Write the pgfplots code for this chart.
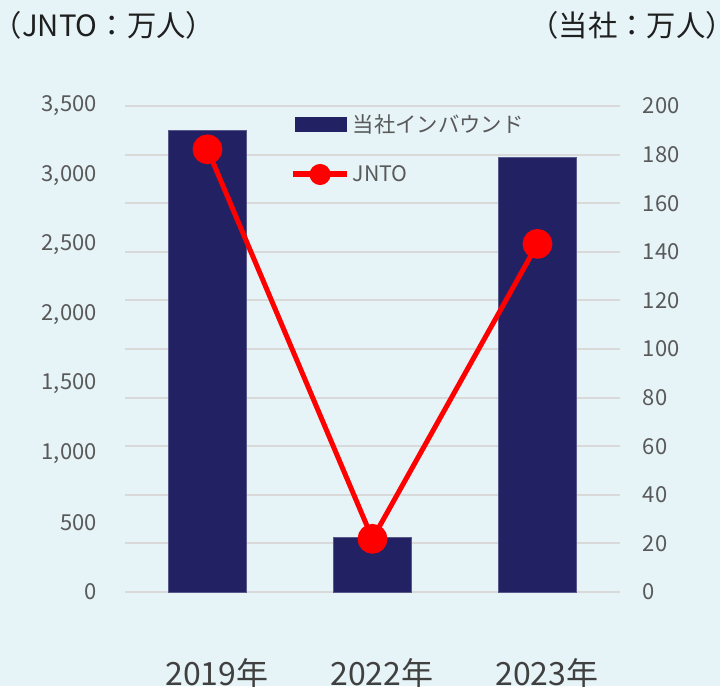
\documentclass[border=0pt]{standalone}
\usepackage{fontspec}
\setmainfont{Noto Sans CJK JP}
\usepackage{pgfplots}
\pgfplotsset{compat=1.18}
\definecolor{bg}{RGB}{230,244,248}
\definecolor{navy}{RGB}{34,33,100}
\definecolor{gridc}{RGB}{217,217,217}
\definecolor{tickc}{RGB}{89,89,89}
\definecolor{xlab}{RGB}{64,64,64}
\begin{document}
\begin{tikzpicture}
\fill[bg] (0pt,0pt) rectangle (540pt,514.5pt);
\useasboundingbox (0pt,0pt) rectangle (540pt,514.5pt);
% right axis: 当社 (bars) + grid
\begin{axis}[
  at={(93.75pt,70.5pt)}, anchor=south west,
  scale only axis, width=371.25pt, height=364.5pt,
  xmin=-0.5, xmax=2.5, ymin=0, ymax=200,
  ytick={0,20,...,200},
  xtick={0,1,2}, xticklabels={2019年,2022年,2023年},
  yticklabel pos=right,
  axis line style={draw=none},
  major tick length=0pt,
  tick style={draw=none},
  ymajorgrids, grid style={gridc, line width=1.5pt},
  yticklabel style={anchor=west, inner sep=0pt, text=tickc, font=\fontsize{16.5pt}{19pt}\selectfont},
  yticklabel shift=17pt,
  xticklabel style={anchor=base, inner sep=0pt, yshift=-70pt, xshift=7pt, text=xlab, font=\fontsize{24pt}{28pt}\selectfont},
  /pgf/number format/assume math mode=true,
  clip=false,
]
\addplot[ybar, bar width=58.5pt, fill=navy, draw=navy!75!white, line width=0.5pt] coordinates {(0,190) (1,22.6) (2,179)};
\end{axis}
% left axis: JNTO (line)
\begin{axis}[
  at={(93.75pt,70.5pt)}, anchor=south west,
  scale only axis, width=371.25pt, height=364.5pt,
  xmin=-0.5, xmax=2.5, ymin=0, ymax=3500,
  ytick={0,500,...,3500},
  xtick=\empty,
  axis line style={draw=none},
  major tick length=0pt,
  tick style={draw=none},
  scaled y ticks=false,
  yticklabel style={anchor=east, inner sep=0pt, text=tickc, font=\fontsize{16.5pt}{19pt}\selectfont, /pgf/number format/1000 sep={,}},
  yticklabel shift=21pt,
  /pgf/number format/assume math mode=true,
  clip=false,
  legend style={draw=none, fill=none, at={(0.333,0.989)}, anchor=north west,
    font=\fontsize{16pt}{19pt}\selectfont, text=tickc, row sep=19.5pt, inner sep=0pt},
  legend cell align=left,
]
\addlegendimage{legend image code/.code={\fill[navy] (2pt,-5.25pt) rectangle (39.5pt,5.25pt);}}
\addlegendentry{当社インバウンド}
\addplot[red, line width=3.75pt, mark=*, mark size=9.3pt, mark options={fill=red, draw=none},
  legend image code/.code={\draw[red, line width=4.5pt] (0pt,0pt) -- (40.5pt,0pt); \fill[red] (20.25pt,0pt) circle (6pt);}]
  coordinates {(0,3188) (1,383) (2,2507)};
\addlegendentry{JNTO}
\end{axis}
\node[anchor=base, font=\fontsize{22pt}{26pt}\selectfont, text=black!88] at (78pt,486.75pt) {（JNTO：万人）};
\node[anchor=base, font=\fontsize{22pt}{26pt}\selectfont, text=black!88] at (474pt,486.75pt) {（当社：万人）};
\end{tikzpicture}
\end{document}
